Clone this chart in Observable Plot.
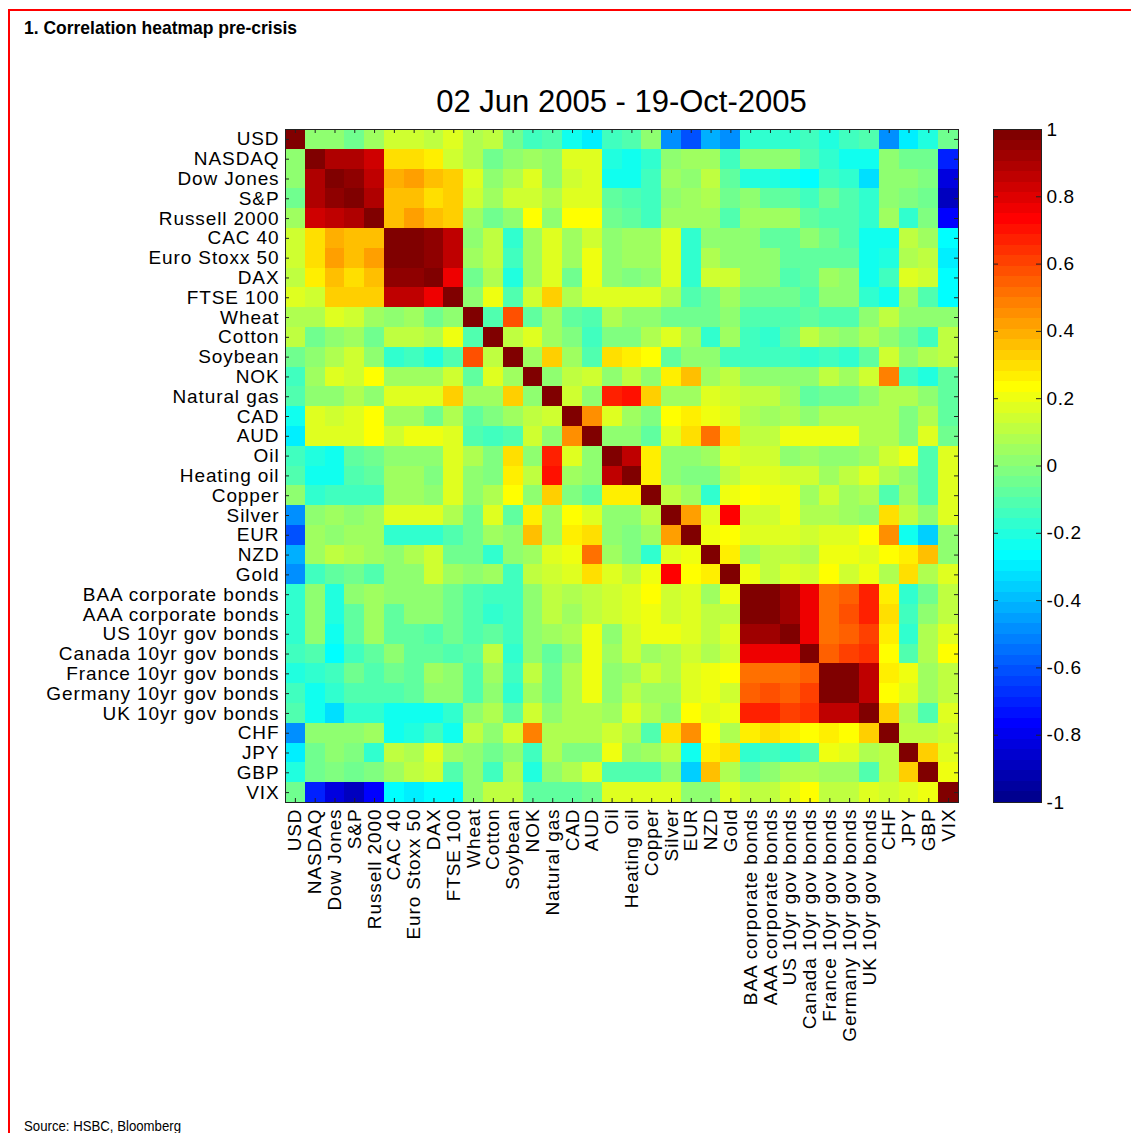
<!DOCTYPE html>
<html><head><meta charset="utf-8">
<script src="https://cdn.jsdelivr.net/npm/d3@7"></script>
<script src="https://cdn.jsdelivr.net/npm/@observablehq/plot@0.6"></script>
<style>
html,body{margin:0;padding:0;background:#fff;}
body{width:1131px;height:1133px;position:relative;overflow:hidden;font-family:"Liberation Sans",Arial,sans-serif;}
#border{position:absolute;left:8px;top:9px;width:1200px;height:1200px;border-top:2px solid #ff0000;border-left:2px solid #ff0000;}
#title{position:absolute;left:24px;top:18px;font-weight:bold;font-size:19px;line-height:20px;font-family:"Liberation Sans",Arial,sans-serif;color:#000;white-space:nowrap;transform:scaleX(0.92);transform-origin:0 0;}
#sub{position:absolute;left:285px;width:673px;top:85px;text-align:center;font-size:31px;line-height:34px;font-family:"Liberation Sans",Arial,sans-serif;color:#000;white-space:nowrap;}
#heat{position:absolute;left:0;top:0;}
#cbar{position:absolute;left:980px;top:0;}
#source{position:absolute;left:24px;top:1118px;font-size:15px;line-height:16px;font-family:"Liberation Sans",Arial,sans-serif;color:#000;white-space:nowrap;transform:scaleX(0.88);transform-origin:0 0;}
</style>
</head>
<body>
<div id="border"></div>
<div id="title">1. Correlation heatmap pre-crisis</div>
<div id="sub">02 Jun 2005 - 19-Oct-2005</div>
<div id="heat"></div>
<div id="cbar"></div>
<div id="source">Source: HSBC, Bloomberg</div>
<script>
// ---- Data ----
const labels = ["USD","NASDAQ","Dow Jones","S&P","Russell 2000","CAC 40","Euro Stoxx 50","DAX","FTSE 100","Wheat","Cotton","Soybean","NOK","Natural gas","CAD","AUD","Oil","Heating oil","Copper","Silver","EUR","NZD","Gold","BAA corporate bonds","AAA corporate bonds","US 10yr gov bonds","Canada 10yr gov bonds","France 10yr gov bonds","Germany 10yr gov bonds","UK 10yr gov bonds","CHF","JPY","GBP","VIX"];

// Upper-triangle rows: each row i lists correlations with columns i..33
const rowUSD = [1,0.0,0.02,-0.05,0.06,0.15,0.15,0.12,0.18,0.08,0.12,-0.06,-0.13,-0.1,-0.25,-0.3,-0.13,-0.12,0.0,-0.47,-0.62,-0.42,-0.5,-0.17,-0.17,-0.17,-0.14,-0.2,-0.15,-0.12,-0.48,-0.3,-0.2,-0.05];
const rowNASDAQ = [1,0.88,0.88,0.82,0.3,0.3,0.25,0.15,0.08,-0.06,0.0,0.05,0.02,0.16,0.18,-0.2,-0.23,-0.18,0.0,0.06,0.06,-0.14,0.0,0.0,0.0,-0.12,-0.18,-0.22,-0.25,0.0,-0.06,-0.05,-0.7];
const rowDow = [1,0.95,0.86,0.38,0.42,0.36,0.34,0.18,0.02,0.07,0.17,0.0,0.14,0.18,-0.22,-0.22,-0.13,0.06,0.02,0.1,-0.07,-0.19,-0.19,-0.22,-0.27,-0.13,-0.18,-0.32,0.0,0.0,-0.03,-0.82];
const rowSP = [1,0.9,0.35,0.37,0.31,0.32,0.15,0.06,0.14,0.14,0.07,0.16,0.18,-0.09,-0.12,-0.13,0.03,0.05,0.07,-0.06,0.01,-0.07,-0.07,-0.13,-0.06,-0.11,-0.18,0.03,-0.03,-0.06,-0.88];
const rowRussell = [1,0.35,0.42,0.35,0.32,0.05,-0.06,0.0,0.22,0.0,0.22,0.22,-0.06,-0.09,-0.13,0.05,0.05,0.05,-0.11,0.05,0.05,0.05,-0.09,-0.11,-0.11,-0.18,0.04,-0.18,-0.03,-0.78];
const rowCAC = [1,1,0.94,0.85,0.02,0.1,-0.18,0.05,0.18,0.05,0.14,0.02,0.05,0.05,0.18,-0.17,0.02,0.02,0.0,-0.07,-0.07,0.0,-0.05,-0.11,-0.22,-0.22,0.1,0.05,-0.27];
const rowStoxx = [1,0.96,0.86,0.05,0.1,-0.13,0.05,0.17,0.05,0.19,0.02,0.05,0.05,0.16,-0.17,0.07,0.02,0.0,0.0,-0.07,-0.07,-0.07,-0.07,-0.22,-0.19,0.08,0.12,-0.3];
const rowDAX = [1,0.78,-0.06,0.07,-0.2,0.05,0.18,-0.06,0.19,0.01,-0.03,0.01,0.18,-0.17,0.14,0.14,0.0,0.0,-0.11,-0.07,0.05,0.02,-0.22,-0.13,0.17,0.15,-0.26];
const rowFTSE = [1,0.02,0.2,-0.11,0.14,0.32,0.07,0.18,0.16,0.16,0.16,0.09,-0.11,-0.06,0.05,-0.05,-0.05,-0.05,-0.11,0.0,0.0,-0.17,-0.22,0.05,-0.11,-0.27];
const rowWheat = [1,-0.12,0.58,-0.07,0.05,-0.07,-0.11,0.08,0.02,0.02,-0.05,-0.05,-0.05,0.0,-0.12,-0.12,-0.12,-0.07,-0.11,-0.11,0.02,0.1,0.02,0.02,0.02];
const rowCotton = [1,0.1,0.16,0.05,-0.03,-0.13,-0.03,-0.03,0.07,0.16,0.05,-0.17,0.05,-0.13,-0.18,-0.08,0.1,0.05,0.02,0.07,0.02,-0.05,-0.13,0.1];
const rowSoybean = [1,0.05,0.32,0.05,-0.12,0.3,0.26,0.22,-0.07,0.0,0.0,-0.13,-0.13,-0.13,-0.13,-0.18,-0.13,-0.18,-0.08,0.15,0.02,0.07,0.1];
const rowNOK = [1,0.02,0.1,0.14,0.02,0.1,0.0,0.25,0.35,0.05,0.1,0.0,0.0,0.0,0.0,0.1,0.06,0.14,0.48,-0.13,-0.2,-0.07];
const rowNatGas = [1,0.14,0.03,0.68,0.71,0.32,0.05,0.05,0.16,0.14,0.1,0.1,0.06,-0.07,-0.06,-0.06,0.0,0.07,0.07,0.02,-0.07];
const rowCAD = [1,0.45,0.16,0.05,-0.03,0.22,0.26,0.19,0.17,0.07,0.05,0.07,0.02,0.07,0.07,0.07,0.07,-0.03,0.07,-0.07];
const rowAUD = [1,0.01,0.01,-0.09,0.16,0.3,0.5,0.3,0.1,0.1,0.19,0.19,0.19,0.19,0.07,0.07,-0.03,0.16,-0.06];
const rowOil = [1,0.87,0.25,0.03,0.0,0.05,0.18,0.15,0.15,0.02,0.05,0.02,0.02,0.05,0.14,0.2,-0.1,0.18];
const rowHeatingOil = [1,0.25,0.0,-0.03,-0.03,0.1,0.16,0.16,0.14,0.14,0.05,0.1,0.16,0.07,0.02,-0.1,0.17];
const rowCopper = [1,0.1,0.05,-0.16,0.19,0.22,0.19,0.19,0.05,0.14,0.06,0.07,-0.1,0.05,-0.1,0.17];
const rowSilver = [1,0.42,0.17,0.72,0.14,0.14,0.19,0.07,0.07,0.06,0.03,0.31,0.1,0.02,0.16];
const rowEUR = [1,0.2,0.22,0.16,0.16,0.16,0.14,0.18,0.16,0.22,0.46,-0.23,-0.36,0.02];
const rowNZD = [1,0.25,0.06,0.1,0.1,0.07,0.19,0.19,0.17,0.22,0.25,0.35,0.02];
const rowGold = [1,0.19,0.12,0.18,0.14,0.22,0.14,0.19,0.08,0.29,0.07,0.17];
const rowBAA = [1,1,0.93,0.78,0.52,0.56,0.67,0.25,-0.16,-0.06,0.1];
const rowAAA = [1,0.93,0.78,0.52,0.58,0.67,0.3,-0.13,0.02,0.1];
const rowUS10 = [1,0.78,0.52,0.56,0.62,0.25,-0.16,0.07,0.17];
const rowCanada10 = [1,0.56,0.62,0.65,0.22,-0.1,0.07,0.22];
const rowFrance10 = [1,1,0.86,0.25,0.19,0.06,0.1];
const rowGermany10 = [1,0.86,0.22,0.17,0.06,0.12];
const rowUK10 = [1,0.32,0.07,-0.1,0.17];
const rowCHF = [1,0.12,0.12,0.15];
const rowJPY = [1,0.32,0.17];
const rowGBP = [1,0.2];
const rowVIX = [1];

const colorbarTicks = [1,0.8,0.6,0.4,0.2,0,-0.2,-0.4,-0.6,-0.8,-1];

// ---- Build matrix ----
const upperRows = [rowUSD,rowNASDAQ,rowDow,rowSP,rowRussell,rowCAC,rowStoxx,rowDAX,rowFTSE,rowWheat,rowCotton,rowSoybean,rowNOK,rowNatGas,rowCAD,rowAUD,rowOil,rowHeatingOil,rowCopper,rowSilver,rowEUR,rowNZD,rowGold,rowBAA,rowAAA,rowUS10,rowCanada10,rowFrance10,rowGermany10,rowUK10,rowCHF,rowJPY,rowGBP,rowVIX];
const n = labels.length;
const cells = [];
for (let i = 0; i < n; i++) {
  for (let j = 0; j < n; j++) {
    const a = Math.min(i, j), b = Math.max(i, j);
    cells.push({row: labels[i], col: labels[j], value: upperRows[a][b - a]});
  }
}

// MATLAB-style jet colormap with 64 levels
function jet(t) {
  let i = Math.min(64, Math.floor(t * 64) + 1);
  if (i < 1) i = 1;
  const tt = i / 64;
  const c = v => Math.round(255 * Math.max(0, Math.min(1, v)));
  return `rgb(${c(1.5 - Math.abs(4 * tt - 3))},${c(1.5 - Math.abs(4 * tt - 2))},${c(1.5 - Math.abs(4 * tt - 1))})`;
}
const colorOpts = {type: "linear", domain: [-1, 1], interpolate: jet, clamp: true};

const frameW = 673, frameH = 673, tick = 4;
const heat = Plot.plot({
  width: 970, height: 1060,
  marginLeft: 285, marginRight: 12, marginTop: 129, marginBottom: 258,
  style: {background: "transparent", fontFamily: "'Liberation Sans', Arial, sans-serif", fontSize: "19px", letterSpacing: "0.9px", color: "#000"},
  x: {type: "band", domain: labels, padding: 0, round: false},
  y: {type: "band", domain: labels, padding: 0, round: false},
  color: colorOpts,
  marks: [
    Plot.cell(cells, {x: "col", y: "row", fill: "value", inset: 0, shapeRendering: "crispEdges"}),
    Plot.frame({stroke: "#222", strokeWidth: 1}),
    Plot.ruleX(labels, {x: d => d, insetBottom: frameH - tick, stroke: "#222"}),
    Plot.ruleX(labels, {x: d => d, insetTop: frameH - tick, stroke: "#222"}),
    Plot.ruleY(labels, {y: d => d, insetRight: frameW - tick, stroke: "#222"}),
    Plot.ruleY(labels, {y: d => d, insetLeft: frameW - tick, stroke: "#222"}),
    Plot.axisX({anchor: "bottom", tickSize: 0, tickPadding: 6, tickRotate: -90, fontSize: 19, label: null}),
    Plot.axisY({anchor: "left", tickSize: 0, tickPadding: 6, fontSize: 19, label: null})
  ]
});
document.getElementById("heat").appendChild(heat);

const levels = d3.range(64);
const cbar = Plot.plot({
  width: 151, height: 830,
  marginLeft: 13, marginRight: 90, marginTop: 129, marginBottom: 28,
  style: {background: "transparent", fontFamily: "'Liberation Sans', Arial, sans-serif", fontSize: "19px", letterSpacing: "0.6px", color: "#000"},
  x: {domain: [0, 1], axis: null},
  y: {domain: [-1, 1]},
  color: colorOpts,
  marks: [
    Plot.rect(levels, {x1: 0, x2: 1, y1: k => -1 + k * 2 / 64, y2: k => -1 + (k + 1) * 2 / 64, fill: k => -1 + (k + 0.5) * 2 / 64, shapeRendering: "crispEdges"}),
    Plot.frame({stroke: "#222"}),
    Plot.ruleY(colorbarTicks, {y: d => d, insetRight: 48 - 5, stroke: "#222"}),
    Plot.ruleY(colorbarTicks, {y: d => d, insetLeft: 48 - 5, stroke: "#222"}),
    Plot.axisY(colorbarTicks, {anchor: "right", tickSize: 0, tickPadding: 5, tickFormat: d => String(d), fontSize: 19, label: null})
  ]
});
document.getElementById("cbar").appendChild(cbar);
</script>
</body></html>
